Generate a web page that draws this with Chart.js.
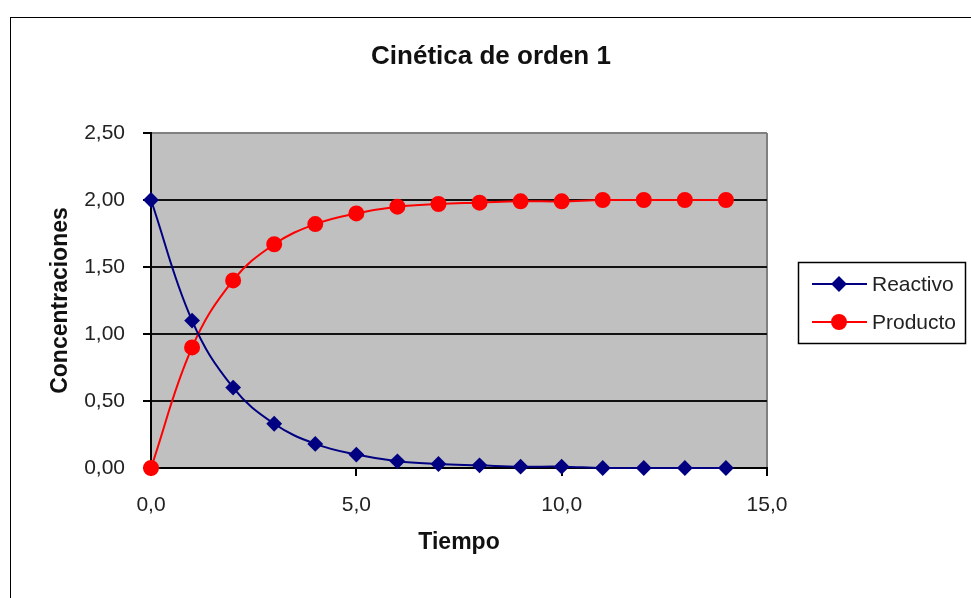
<!DOCTYPE html>
<html>
<head>
<meta charset="utf-8">
<script src="https://cdn.jsdelivr.net/npm/chart.js@4.4.1/dist/chart.umd.min.js"></script>
<style>
  html, body { margin: 0; padding: 0; background: #fff; }
  canvas { display: block; }
</style>
</head>
<body>
<canvas id="chart" width="971" height="598"></canvas>
<script>
// Tiempo (x) and the two concentration series
const tiempo = [0, 1, 2, 3, 4, 5, 6, 7, 8, 9, 10, 11, 12, 13, 14];
const reactivo = [2.00, 1.10, 0.60, 0.33, 0.18, 0.10, 0.05, 0.03, 0.02, 0.01, 0.01, 0.00, 0.00, 0.00, 0.00];
const producto = [0.00, 0.90, 1.40, 1.67, 1.82, 1.90, 1.95, 1.97, 1.98, 1.99, 1.99, 2.00, 2.00, 2.00, 2.00];

const xTicks = [0, 5, 10, 15];
const yTicks = [0, 0.5, 1, 1.5, 2, 2.5];

const FONT = "'Liberation Sans', Arial, sans-serif";
const fmt = (v, d) => v.toFixed(d).replace('.', ',');

// gray plot area, outer frame and title
const backdrop = {
  id: 'backdrop',
  beforeDraw(chart) {
    const { ctx, chartArea: a } = chart;
    ctx.save();
    ctx.fillStyle = '#c0c0c0';
    ctx.fillRect(a.left, a.top, a.right - a.left, a.bottom - a.top);
    ctx.restore();
  },
  afterDraw(chart) {
    const ctx = chart.ctx;
    ctx.save();
    ctx.strokeStyle = '#000';
    ctx.lineWidth = 1;
    ctx.strokeRect(10.5, 17.5, 970, 620);
    ctx.fillStyle = '#111';
    ctx.font = 'bold 26px ' + FONT;
    ctx.textAlign = 'center';
    ctx.textBaseline = 'middle';
    ctx.fillText('Cinética de orden 1', 491, 57);
    ctx.restore();
  }
};

// Excel style legend box with line + marker samples
const boxLegend = {
  id: 'boxLegend',
  afterDraw(chart) {
    const ctx = chart.ctx;
    const box = { x: 798.5, y: 262.5, w: 167, h: 81 };
    ctx.save();
    ctx.fillStyle = '#fff';
    ctx.fillRect(box.x, box.y, box.w, box.h);
    ctx.strokeStyle = '#000';
    ctx.lineWidth = 1.5;
    ctx.strokeRect(box.x, box.y, box.w, box.h);
    const rows = [284, 322];
    chart.data.datasets.forEach((ds, i) => {
      const y = rows[i];
      ctx.strokeStyle = ds.borderColor;
      ctx.lineWidth = ds.borderWidth;
      ctx.beginPath();
      ctx.moveTo(812, y);
      ctx.lineTo(867, y);
      ctx.stroke();
      ctx.fillStyle = ds.pointBackgroundColor;
      ctx.strokeStyle = ds.pointBorderColor;
      Chart.helpers.drawPoint(ctx, {
        pointStyle: ds.pointStyle, radius: ds.pointRadius, borderWidth: 1, rotation: 0
      }, 839, y);
      ctx.fillStyle = '#222';
      ctx.font = '21px ' + FONT;
      ctx.textAlign = 'left';
      ctx.textBaseline = 'middle';
      ctx.fillText(ds.label, 872, y + 1);
    });
    ctx.restore();
  }
};

new Chart(document.getElementById('chart'), {
  type: 'line',
  data: {
    datasets: [
      {
        label: 'Reactivo',
        data: tiempo.map((t, i) => ({ x: t, y: reactivo[i] })),
        borderColor: '#000080',
        borderWidth: 2,
        pointStyle: 'rectRot',
        pointRadius: 6.5,
        pointBackgroundColor: '#000080',
        pointBorderColor: '#000080',
        tension: 0.4,
        clip: false
      },
      {
        label: 'Producto',
        data: tiempo.map((t, i) => ({ x: t, y: producto[i] })),
        borderColor: '#ff0000',
        borderWidth: 2,
        pointStyle: 'circle',
        pointRadius: 7,
        pointBackgroundColor: '#ff0000',
        pointBorderColor: '#ff0000',
        tension: 0.4,
        clip: false
      }
    ]
  },
  options: {
    responsive: false,
    animation: false,
    layout: { padding: { top: 133, right: 204, bottom: 0, left: 0 } },
    plugins: {
      legend: { display: false },
      tooltip: { enabled: false }
    },
    scales: {
      x: {
        type: 'linear',
        min: 0,
        max: 15,
        afterFit(scale) { scale.height = 130; },
        afterBuildTicks(scale) { scale.ticks = xTicks.map(v => ({ value: v })); },
        border: { color: '#000', width: 2 },
        grid: {
          drawOnChartArea: true,
          color: c => (c.tick && c.tick.value === 15 ? '#808080' : 'rgba(0,0,0,0)'),
          lineWidth: 2,
          tickColor: '#000',
          tickLength: 8
        },
        ticks: {
          padding: 17,
          color: '#222',
          font: { family: FONT, size: 21 },
          callback: v => fmt(v, 1)
        },
        title: {
          display: true,
          text: 'Tiempo',
          color: '#111',
          font: { family: FONT, size: 23, weight: 'bold' },
          padding: { top: 0, bottom: 42 }
        }
      },
      y: {
        min: 0,
        max: 2.5,
        afterFit(scale) { scale.width = 151; },
        afterBuildTicks(scale) { scale.ticks = yTicks.map(v => ({ value: v })); },
        border: { color: '#000', width: 2 },
        grid: {
          color: c => (c.tick && c.tick.value === 2.5 ? '#808080' : '#111'),
          lineWidth: 2,
          tickColor: '#000',
          tickLength: 8
        },
        ticks: {
          padding: 18,
          color: '#222',
          font: { family: FONT, size: 21 },
          callback: v => fmt(v, 2)
        },
        title: {
          display: true,
          text: 'Concentraciones',
          color: '#111',
          font: { family: FONT, size: 23, weight: 'bold' },
          padding: { top: 47, bottom: 0 }
        }
      }
    }
  },
  plugins: [backdrop, boxLegend]
});
</script>
</body>
</html>
